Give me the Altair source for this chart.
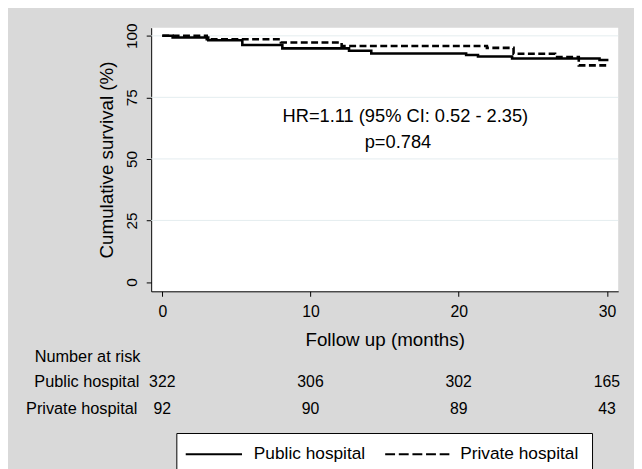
import altair as alt
import pandas as pd

# ---- Data ----
public_t = [0, 0.7, 3.1, 5.4, 8.1, 12.6, 14.1, 20.5, 21.3, 23.6, 29.5, 30.1]
public_s = [100, 99.3, 98.2, 96.3, 94.9, 93.9, 92.8, 92.2, 91.6, 90.8, 90.2, 90.2]
private_t = [0, 3.0, 8.0, 12.1, 21.9, 23.7, 26.5, 28.1, 30.1]
private_s = [100, 98.6, 97.3, 95.9, 95.1, 92.7, 91.4, 88.0, 88.0]

risk_times = [0, 10, 20, 30]
risk_public = [322, 306, 302, 165]
risk_private = [92, 90, 89, 43]

x_ticks = [0, 10, 20, 30]
y_ticks = [0, 25, 50, 75, 100]
grid_values = [25, 50, 75, 100]

hr_text = "HR=1.11 (95% CI: 0.52 - 2.35)"
p_text = "p=0.784"

FONT = "Liberation Sans, Arial, sans-serif"
W, H = 473, 267

xscale = alt.Scale(domain=[-0.75, 30.76], nice=False, zero=False)
yscale = alt.Scale(domain=[-3.8, 103.3], nice=False, zero=False)

pub = pd.DataFrame({"t": public_t, "s": public_s})
pri = pd.DataFrame({"t": private_t, "s": private_s})

x_axis = alt.Axis(
    values=x_ticks, title="Follow up (months)", grid=False,
    tickSize=5, labelPadding=7, labelFontSize=16, titleFontSize=19,
    titleX=W / 2, titleY=49, titleAlign="center", titleBaseline="middle",
    labelFlush=False, format="d")
y_axis = alt.Axis(
    values=y_ticks, title="Cumulative survival (%)", grid=False,
    tickSize=5, labelPadding=7, labelFontSize=15.5, labelAngle=270,
    labelAlign="center", labelBaseline="bottom", titleFontSize=19,
    titleAngle=270, titleX=-45, titleY=H / 2, titleAlign="center",
    titleBaseline="middle", labelFlush=False, format="d")
X = alt.X("t:Q", scale=xscale, axis=x_axis)
Y = alt.Y("s:Q", scale=yscale, axis=y_axis)

grid = alt.Chart(pd.DataFrame({"s": grid_values})).mark_rule(
    color="#e4edef", strokeWidth=1).encode(y=Y)

line_pub = alt.Chart(pub).mark_line(
    interpolate="step-after", color="black", strokeWidth=2.6).encode(x=X, y=Y)
line_pri = alt.Chart(pri).mark_line(
    interpolate="step-after", color="black", strokeWidth=2.6,
    strokeDash=[7, 3.5]).encode(x=X, y=Y)

ann = pd.DataFrame({"t": [16.4, 15.9], "s": [67.5, 57.0], "label": [hr_text, p_text]})
ann_text = alt.Chart(ann).mark_text(fontSize=18.5, font=FONT, color="black",
                                    align="center", baseline="middle").encode(
    x=X, y=Y, text="label:N")


def txt(label, x, y, size=16, align="left"):
    return alt.Chart(pd.DataFrame({"label": [label]})).mark_text(
        fontSize=size, font=FONT, color="black", align=align, baseline="middle"
    ).encode(x=alt.value(x), y=alt.value(y), text="label:N")


# Number at risk table
risk_df = pd.DataFrame({"t": risk_times, "pub": risk_public, "pri": risk_private})
risk_pub = alt.Chart(risk_df).mark_text(fontSize=16, font=FONT, color="black",
                                        baseline="middle").encode(
    x=X, y=alt.value(359), text="pub:Q")
risk_pri = alt.Chart(risk_df).mark_text(fontSize=16, font=FONT, color="black",
                                        baseline="middle").encode(
    x=X, y=alt.value(386), text="pri:Q")

nar = txt("Number at risk", -118, 334, size=16.5)
row1 = txt("Public hospital", -12, 359, size=16.5, align="right")
row2 = txt("Private hospital", -14, 386, size=16.5, align="right")

# Manual legend
one = pd.DataFrame({"k": [0]})
leg_box = alt.Chart(one).mark_rect(
    fill="white", stroke="black", strokeWidth=1).encode(
    x=alt.value(26), x2=alt.value(447), y=alt.value(411), y2=alt.value(520))
leg_solid = alt.Chart(one).mark_rule(
    color="black", strokeWidth=2).encode(x=alt.value(35), x2=alt.value(92), y=alt.value(432))
leg_dash = alt.Chart(one).mark_rule(
    color="black", strokeWidth=2, strokeDash=[10, 3.8]).encode(
    x=alt.value(237), x2=alt.value(302), y=alt.value(432))
leg_t1 = txt("Public hospital", 104, 432, size=17.5)
leg_t2 = txt("Private hospital", 313, 432, size=17.5)

chart = alt.layer(
    grid, line_pub, line_pri, ann_text, risk_pub, risk_pri, nar, row1, row2,
    leg_box, leg_solid, leg_dash, leg_t1, leg_t2
).properties(
    width=W, height=H,
    autosize=alt.AutoSizeParams(type="none"),
    padding={"left": 145, "top": 17, "right": 16, "bottom": 177},
    background="#d9d9d9",
).configure_view(fill="white", stroke=None).configure_axis(
    domainColor="black", tickColor="black", labelColor="black", titleColor="black",
    labelFont=FONT, titleFont=FONT, titleFontWeight="normal", domainWidth=1, tickWidth=1
)

chart.save("out.html", embed_options={"renderer": "svg", "actions": False})
